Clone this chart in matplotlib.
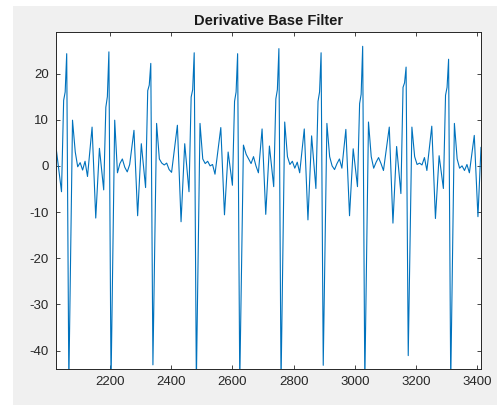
import matplotlib.pyplot as plt
from matplotlib.patches import Rectangle

# sample index of each R peak (last one lies past the right edge)
r_pos = [2058, 2196, 2333, 2475, 2617, 2752, 2890, 3026, 3168, 3307, 3446]

# features leading into each R peak (None = outside the plotted range)
e_peak = [None, 8.4, 7.7, 8.8, 8.3, 8.0, 8.0, 7.9, 8.4, 8.6, 6.6]
f_dip = [None, -11.3, -10.8, -12.1, -10.6, -10.5, -11.7, -10.8, -12.4, -11.4, -11.0]
g_peak = [None, 3.8, 4.8, 4.8, 3.0, 4.3, 6.5, 3.7, 4.2, 2.2, None]
h_dip = [-5.6, -5.2, -4.7, -5.6, -4.2, -4.5, -4.9, -4.5, -6.0, -4.9, None]
rise_lo = [14.2, 12.7, 16.3, 14.9, 14.0, 14.5, 14.0, 13.5, 17.0, 15.3, None]
rise_hi = [16.0, 15.0, 17.5, 16.5, 16.0, 16.5, 16.0, 15.5, 18.0, 17.0, None]

# features following each R peak
r_peak = [24.3, 24.7, 22.2, 24.5, 24.3, 25.4, 24.5, 25.9, 21.4, 23.1]
s_trough = [-47, -47, -43.1, -47, -47, -47, -43.2, -47, -41.1, -47]
c_peak = [9.9, 9.9, 9.2, 9.2, 4.5, 9.5, 9.2, 9.5, 8.4, 9.2]
d_noise = [
    [3.0, -0.2, 0.7, -0.9, 1.0, -2.3],
    [-1.5, 0.5, 1.5, -0.3, -1.3, 0.3],
    [1.5, 0.6, 0.2, 0.6, -0.8, -1.4],
    [1.5, 0.5, 1.0, 0.0, 0.3, -1.8],
    [2.5, 1.5, 0.5, 2.0, 0.0, -1.5],
    [2.0, 0.3, 1.0, -0.5, 0.8, -1.5],
    [2.0, 0.0, -0.8, 0.5, 1.5, -0.5],
    [2.0, -0.5, 0.8, 1.8, 0.5, -1.0],
    [2.0, 0.3, 0.6, 0.2, 1.8, -1.0],
    [1.5, -0.5, 0.0, -1.0, 0.3, -1.5],
]

first_sample, first_val = 2023, 4.1
last_sample, last_val = 3413, 4.0

lead_offsets = [-55, -43, -31, -17, -10, -5]
trail_offsets = [0, 7, 19]
d_offsets = [28, 36, 44, 52, 60, 68]

xs = [first_sample]
ys = [first_val]
for k, r in enumerate(r_pos):
    lead = [e_peak[k], f_dip[k], g_peak[k], h_dip[k], rise_lo[k], rise_hi[k]]
    for off, v in zip(lead_offsets, lead):
        if v is not None and first_sample < r + off < last_sample:
            xs.append(r + off)
            ys.append(v)
    if k < len(r_peak):
        for off, v in zip(trail_offsets, [r_peak[k], s_trough[k], c_peak[k]]):
            xs.append(r + off)
            ys.append(v)
        for off, v in zip(d_offsets, d_noise[k]):
            xs.append(r + off)
            ys.append(v)
xs.append(last_sample)
ys.append(last_val)

plt.rcParams['font.family'] = ['Liberation Sans', 'DejaVu Sans']
plt.rcParams['axes.unicode_minus'] = False

fig = plt.figure(figsize=(4.97, 4.05), dpi=100)
fig.patch.set_facecolor('white')
fig.add_artist(Rectangle((13 / 497, 0), 1 - 13 / 497, 1 - 6 / 405,
                         transform=fig.transFigure, facecolor='#f0f0f0',
                         edgecolor='none', zorder=-10))

ax = fig.add_axes([56 / 497, 1 - 369 / 405, (481 - 56) / 497, (369 - 32) / 405])
ax.plot(xs, ys, color='#0072bd', linewidth=0.8)

ax.set_xlim(first_sample, last_sample)
ax.set_ylim(-44, 29)
ax.set_xticks(range(2200, 3401, 200))
ax.set_yticks(range(-40, 21, 10))
ax.set_title('Derivative Base Filter', fontsize=10.5, fontweight='bold',
             color='#1a1a1a', pad=5)

ax.tick_params(direction='in', top=True, right=True, length=3, width=0.6,
               labelsize=9.5, colors='#262626', pad=5)
for sp in ax.spines.values():
    sp.set_color('#262626')
    sp.set_linewidth(0.7)

fig.savefig('out.png', dpi=100)
